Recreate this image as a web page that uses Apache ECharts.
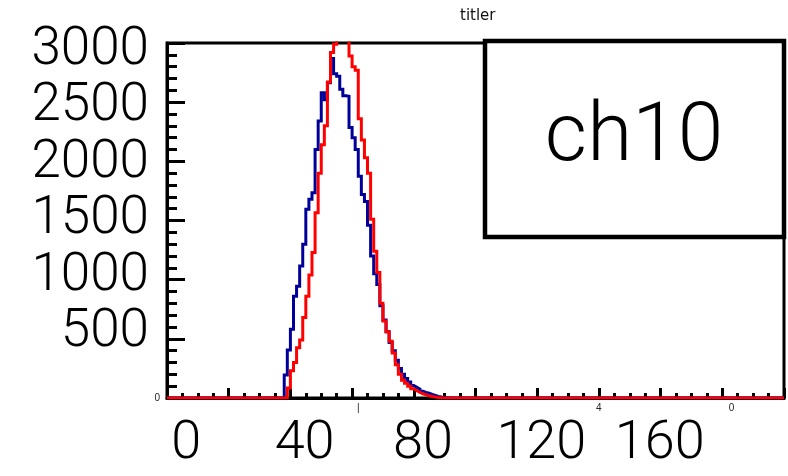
<!DOCTYPE html>
<html>
<head>
<meta charset="utf-8">
<script src="https://cdn.jsdelivr.net/npm/echarts@6/dist/echarts.min.js"></script>
<style>
  html, body { margin: 0; padding: 0; background: #fff; }
  #chart { width: 788px; height: 476px; }
</style>
</head>
<body>
<div id="chart"></div>
<script>
// Histogram binning: 200 unit-wide bins from 0 to 200
const binCount = 200;
const yMax = 3000;

// ch10 counts (blue), first listed bin = 38
const ch10Start = 38;
const ch10Counts = [
  195, 405, 580, 860, 945, 1115, 1300, 1595, 1680, 1735,
  2100, 2340, 2580, 2520, 2665, 2870, 2740, 2720, 2610, 2555,
  2550, 2285, 2200, 2100, 1875, 1720, 1660, 1460, 1200, 1050,
  960, 780, 660, 560, 470, 400, 320, 250, 200, 165,
  135, 105, 90, 75, 58, 48, 40, 30, 22, 14,
  8, 4, 2
];

// reference counts (red), first listed bin = 39
const refStart = 39;
const refCounts = [
  85, 230, 300, 425, 490, 680, 860, 1040, 1230, 1565,
  1900, 2140, 2300, 2670, 2920, 2990, 3150, 3250, 3200, 3100,
  2890, 2800, 2770, 2360, 2180, 2030, 1900, 1510, 1240, 1060,
  800, 650, 560, 480, 380, 280, 200, 150, 125, 100,
  78, 62, 48, 36, 27, 19, 13, 8, 5, 3,
  1
];

// Axis labels
const xTickLabels = [0, 40, 80, 120, 160];
const yTickLabels = [500, 1000, 1500, 2000, 2500, 3000];
const xFragmentText = ['|', '4', '0'];
const xFragmentAt = [62, 140, 183];

// Scales of the label-only axes
const xLabelScale = [-6.5, 202];
const yLabelScale = [-77, 3067];

function histSteps(start, counts) {
  const pts = [];
  for (let i = 0; i < binCount; i++) {
    const k = i - start;
    const v = (k >= 0 && k < counts.length) ? counts[k] : 0;
    pts.push([i, v]);
  }
  pts.push([binCount, pts[binCount - 1][1]]);
  return pts;
}

const fragMap = {};
xFragmentAt.forEach((v, i) => { fragMap[v] = xFragmentText[i]; });

const chart = echarts.init(document.getElementById('chart'), null, { renderer: 'canvas' });

const black = '#000';
const bigFont = 'Roboto, "Liberation Sans", sans-serif';
const smallFont = '"Liberation Sans", Arial, sans-serif';

chart.setOption({
  animation: false,
  backgroundColor: '#fff',
  title: {
    text: 'titler',
    left: 455, top: 4,
    textStyle: { fontFamily: 'DejaVu Sans', fontSize: 15, fontWeight: 'normal', color: '#111' }
  },
  grid: {
    left: 167, right: 4, top: 43, bottom: 78,
    show: true, borderColor: black, borderWidth: 3, backgroundColor: 'transparent'
  },
  xAxis: [
    {
      type: 'value', min: 0, max: binCount, interval: 20, position: 'bottom',
      axisLine: { show: true, onZero: false, lineStyle: { color: black, width: 3 } },
      axisTick: { show: true, inside: true, length: 10, lineStyle: { color: black, width: 3 } },
      minorTick: { show: true, splitNumber: 4, length: 5, lineStyle: { color: black, width: 3 } },
      splitLine: { show: false },
      minorSplitLine: { show: false },
      axisLabel: {
        customValues: xFragmentAt,
        formatter: v => fragMap[v] || '',
        fontFamily: smallFont, fontSize: 10, color: '#222', margin: 5
      }
    },
    {
      type: 'value', min: xLabelScale[0], max: xLabelScale[1], position: 'bottom',
      axisLine: { show: false }, axisTick: { show: false }, splitLine: { show: false },
      axisLabel: {
        customValues: xTickLabels,
        formatter: v => String(v),
        fontFamily: bigFont, fontWeight: 300, fontSize: 54, color: black, margin: 19
      }
    }
  ],
  yAxis: [
    {
      type: 'value', min: 0, max: yMax, interval: 500, position: 'left',
      axisLine: { show: true, onZero: false, lineStyle: { color: black, width: 3 } },
      axisTick: { show: true, inside: true, length: 18, lineStyle: { color: black, width: 3 } },
      minorTick: { show: true, splitNumber: 5, length: 10, lineStyle: { color: black, width: 3 } },
      splitLine: { show: false },
      minorSplitLine: { show: false },
      axisLabel: {
        customValues: [0],
        formatter: v => String(v),
        fontFamily: smallFont, fontSize: 10, color: '#222', margin: 7
      }
    },
    {
      type: 'value', min: yLabelScale[0], max: yLabelScale[1], position: 'left',
      axisLine: { show: false }, axisTick: { show: false }, splitLine: { show: false },
      axisLabel: {
        customValues: yTickLabels,
        formatter: v => String(v),
        fontFamily: bigFont, fontWeight: 300, fontSize: 53, color: black, margin: 18
      }
    }
  ],
  series: [
    {
      name: 'ch10', type: 'line', step: 'end', symbol: 'none',
      xAxisIndex: 0, yAxisIndex: 0, clip: true,
      lineStyle: { color: '#000099', width: 3, join: 'miter' },
      data: histSteps(ch10Start, ch10Counts), z: 3
    },
    {
      name: 'ref', type: 'line', step: 'end', symbol: 'none',
      xAxisIndex: 0, yAxisIndex: 0, clip: true,
      lineStyle: { color: '#ff0000', width: 3, join: 'miter' },
      data: histSteps(refStart, refCounts), z: 4
    }
  ],
  graphic: [
    {
      type: 'group', z: 100,
      children: [
        {
          type: 'rect',
          shape: { x: 485, y: 41, width: 299, height: 196 },
          style: { fill: '#fff', stroke: black, lineWidth: 4.5 }
        },
        {
          type: 'text', x: 634, y: 139,
          style: {
            text: 'ch10', fill: black, font: '300 82px Roboto',
            align: 'center', verticalAlign: 'middle'
          }
        }
      ]
    }
  ]
});
</script>
</body>
</html>
